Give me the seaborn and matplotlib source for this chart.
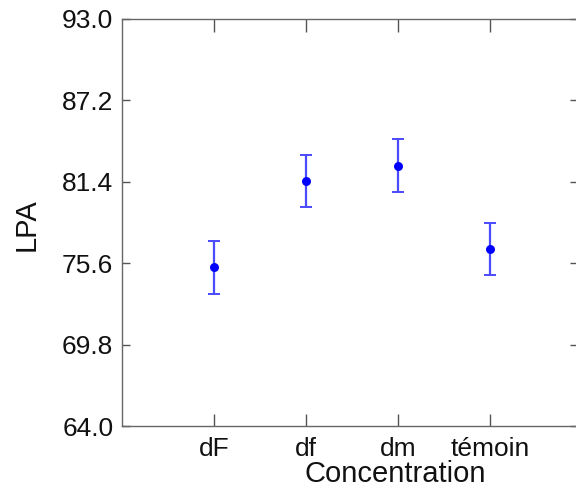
import matplotlib
matplotlib.use("Agg")
import matplotlib.pyplot as plt
import seaborn as sns
import numpy as np

categories = ["dF", "df", "dm", "témoin"]
means = [75.3, 81.45, 82.55, 76.6]
errors = [1.87, 1.87, 1.88, 1.85]
y_ticks = [64.0, 69.8, 75.6, 81.4, 87.2, 93.0]

sns.set_style("white")
plt.rcParams["font.family"] = ["Liberation Sans", "DejaVu Sans"]

fig = plt.figure(figsize=(5.76, 4.88), dpi=100)
ax = fig.add_axes([121.7 / 576, 62 / 488, 456.3 / 576, 407 / 488])

ax.errorbar(categories, means, yerr=errors, fmt="none", ecolor="#4a4aff",
            elinewidth=1.6, capsize=4.6, capthick=1.4, zorder=2)
sns.scatterplot(x=categories, y=means, ax=ax, color="#0000ff", s=42,
                edgecolor="#0000ff", linewidth=0, zorder=3)

ax.set_xlim(-1, 3.95)
ax.set_ylim(64.0, 93.0)
ax.set_yticks(y_ticks)
ax.set_yticklabels([f"{v:.1f}" for v in y_ticks])

for side in ["left", "top", "bottom", "right"]:
    ax.spines[side].set_visible(True)
    ax.spines[side].set_color("#666666")
    ax.spines[side].set_linewidth(1.0)

ax.tick_params(axis="y", which="both", direction="in", left=True, right=True,
               length=6, width=1.0, color="#555555", labelsize=19, pad=6,
               labelcolor="#111111")
ax.tick_params(axis="x", which="both", direction="in", bottom=True, top=True,
               length=9, width=1.0, color="#555555", labelsize=19, pad=8,
               labelcolor="#111111")

ax.set_xlabel("Concentration", fontsize=21, color="#111111")
ax.set_ylabel("LPA", fontsize=21, color="#111111")
ax.xaxis.set_label_coords(0.599, -0.1376)
ax.xaxis.label.set_va("baseline")
ax.yaxis.set_label_coords(-0.2075, 0.494)
ax.yaxis.label.set_va("center")

fig.savefig("out.png", dpi=100)
